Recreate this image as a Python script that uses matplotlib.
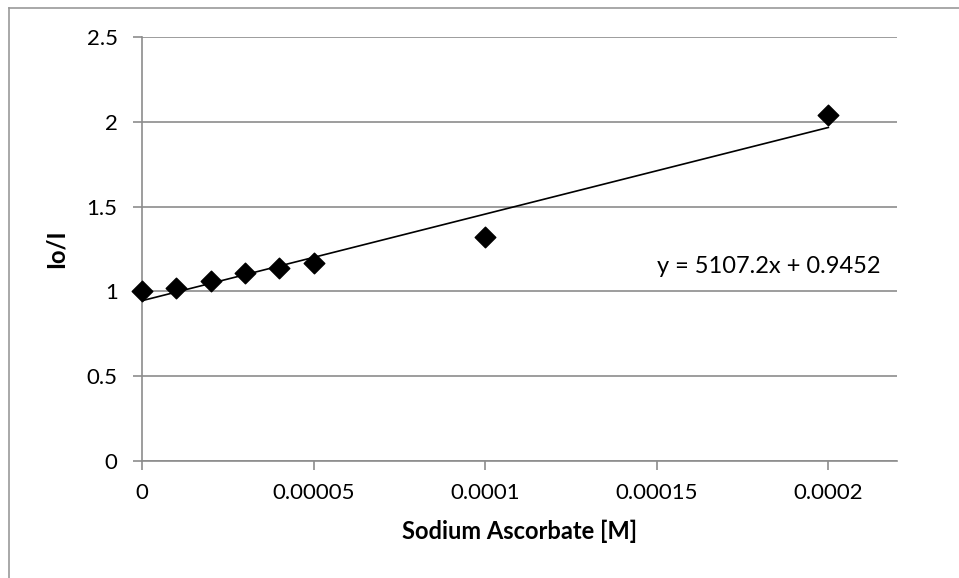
import numpy as np
import matplotlib.pyplot as plt
from matplotlib.lines import Line2D

plt.rcParams['font.family'] = ['Lato', 'DejaVu Sans']

# Datos
conc = [0, 0.00001, 0.00002, 0.00003, 0.00004, 0.00005, 0.0001, 0.0002]
io_i = [1.0, 1.02, 1.06, 1.11, 1.14, 1.17, 1.32, 2.04]
slope, intercept = 5107.2, 0.9452
xticks = [0, 0.00005, 0.0001, 0.00015, 0.0002]
xtick_labels = ['0', '0.00005', '0.0001', '0.00015', '0.0002']
yticks = [0, 0.5, 1, 1.5, 2, 2.5]
ytick_labels = ['0', '0.5', '1', '1.5', '2', '2.5']

fig = plt.figure(figsize=(9.59, 5.78), dpi=100)
ax = fig.add_axes([142 / 959, 1 - 461 / 578, (897 - 142) / 959, (461 - 37) / 578])

grid_c = '#8c8c8c'
ax.set_xlim(0, 0.00022)
ax.set_ylim(0, 2.5)
ax.set_yticks(yticks)
ax.set_yticklabels(ytick_labels)
ax.set_xticks(xticks)
ax.set_xticklabels(xtick_labels)
ax.yaxis.grid(True, color=grid_c, linewidth=1.2)
ax.set_axisbelow(True)
for s in ['top', 'right']:
    ax.spines[s].set_visible(False)
for s in ['left', 'bottom']:
    ax.spines[s].set_color(grid_c)
    ax.spines[s].set_linewidth(1.2)
ax.tick_params(axis='both', direction='out', length=6.5, width=1.2, color=grid_c,
               labelsize=16)
ax.tick_params(axis='y', pad=11)
ax.tick_params(axis='x', pad=9)

# Línea de tendencia
xt = np.array([0, 0.0002])
ax.plot(xt, slope * xt + intercept, color='black', linewidth=1.2, zorder=2)
ax.scatter(conc, io_i, marker='D', s=110, color='black', zorder=3, clip_on=False)

ax.text(0.0001825, 1.145, 'y = 5107.2x + 0.9452', fontsize=17, ha='center', va='center')

ax.set_xlabel('Sodium Ascorbate [M]', fontsize=17, fontweight='bold', labelpad=12)
ax.set_ylabel('Io/I', fontsize=17, fontweight='bold', labelpad=14)

# Marco exterior
fig.add_artist(Line2D([9 / 959, 9 / 959], [0, 1 - 8 / 578], color='#999999', linewidth=1.2))
fig.add_artist(Line2D([9 / 959, 1], [1 - 8 / 578, 1 - 8 / 578], color='#999999', linewidth=1.2))

fig.savefig('out.png', dpi=100)
